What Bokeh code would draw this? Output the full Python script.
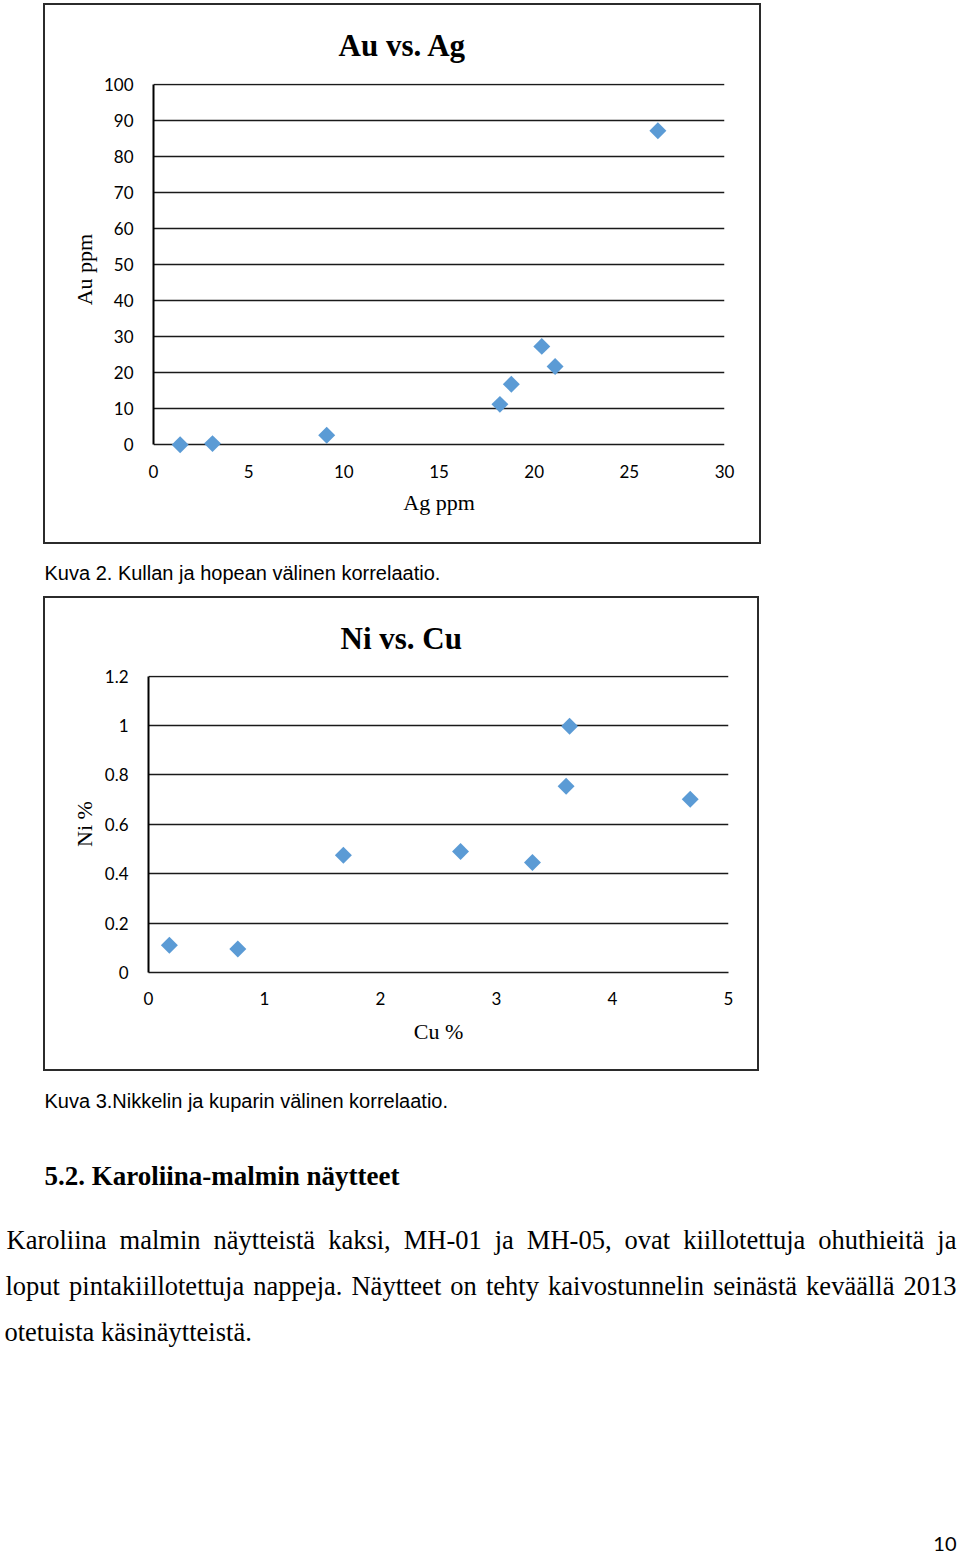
import numpy as np
from bokeh.plotting import figure
from bokeh.layouts import column, row
from bokeh.models import Range1d, FixedTicker, ColumnDataSource, Spacer
from bokeh.core.properties import value
from bokeh.embed import file_html
from bokeh.resources import INLINE

# ---------------- data ----------------
ag_ppm = [1.4, 3.1, 9.1, 18.2, 18.8, 20.4, 21.1, 26.5]
au_ppm = [0.0, 0.3, 2.6, 11.2, 16.8, 27.3, 21.7, 87.2]
ag_ticks = [0, 5, 10, 15, 20, 25, 30]
au_ticks = [0, 10, 20, 30, 40, 50, 60, 70, 80, 90, 100]

cu_pct = [0.18, 0.77, 1.68, 2.69, 3.31, 3.63, 3.60, 4.67]
ni_pct = [0.11, 0.095, 0.475, 0.49, 0.446, 0.997, 0.754, 0.702]
cu_ticks = [0, 1, 2, 3, 4, 5]
ni_ticks = [0, 0.2, 0.4, 0.6, 0.8, 1.0, 1.2]
ni_tick_labels = ["0", "0.2", "0.4", "0.6", "0.8", "1", "1.2"]

caption_1 = "Kuva 2. Kullan ja hopean välinen korrelaatio."
caption_2 = "Kuva 3.Nikkelin ja kuparin välinen korrelaatio."
heading = "5.2. Karoliina-malmin näytteet"
body_line1 = "Karoliina malmin näytteistä kaksi, MH-01 ja MH-05, ovat kiillotettuja ohuthieitä ja"
body_line2 = "loput pintakiillotettuja nappeja. Näytteet on tehty kaivostunnelin seinästä keväällä 2013"
body_line3 = "otetuista käsinäytteistä."
page_number = "10"

# ---------------- styles ----------------
BLUE = "#5B9BD5"
SERIF = "Liberation Serif"
SANS = "Liberation Sans"
TICKFONT = "Lato"
BOX_STYLE = {"border": "2px solid #2b2b2b"}
BODY_PX = 26.5

# Times / Liberation Serif advance widths (per em) used to justify body lines
TIMES_W = {"a": .444, "e": .444, "h": .5, "i": .278, "j": .278, "k": .5, "l": .278,
           "m": .778, "n": .5, "o": .5, "p": .5, "r": .333, "s": .389, "t": .278,
           "u": .5, "v": .5, "y": .5, "ä": .444, "K": .722, "M": .889, "H": .722,
           "N": .722, "-": .333, ",": .25, ".": .25, "0": .5, "1": .5, "2": .5,
           "3": .5, "5": .5}


def justify(line, left, right, px):
    words = line.split(" ")
    widths = [sum(TIMES_W.get(c, .5) for c in w) * px for w in words]
    gap = (right - left - sum(widths)) / (len(words) - 1)
    xs, x = [], left
    for w in widths:
        xs.append(x)
        x += w + gap
    return words, xs


def style_chart(p, title, xlab, ylab):
    p.styles = BOX_STYLE
    p.title.text = title
    p.title.text_font = SERIF
    p.title.text_font_size = "31px"
    p.title.text_font_style = "bold"
    p.title.align = "left"
    p.title.text_color = "black"
    p.outline_line_color = None
    p.xgrid.grid_line_color = None
    p.ygrid.grid_line_color = "#1a1a1a"
    p.ygrid.grid_line_width = 1.6
    for ax in (p.xaxis, p.yaxis):
        ax.major_tick_line_color = None
        ax.minor_tick_line_color = None
        ax.major_label_text_font = TICKFONT
        ax.major_label_text_font_size = "17px"
        ax.major_label_text_color = "black"
        ax.axis_label_text_font = SERIF
        ax.axis_label_text_font_size = "22px"
        ax.axis_label_text_font_style = "normal"
        ax.axis_label_text_color = "black"
    p.xaxis.axis_label = xlab
    p.yaxis.axis_label = ylab
    p.yaxis.axis_line_color = "black"
    p.yaxis.axis_line_width = 2
    p.yaxis.major_label_standoff = 14


# ---------------- chart 1: Au vs Ag ----------------
p1 = figure(width=718, height=541, x_range=Range1d(0, 30), y_range=Range1d(-3, 100.3),
            toolbar_location=None, output_backend="svg",
            min_border_left=108, min_border_right=39, min_border_top=78, min_border_bottom=91)
style_chart(p1, "Au vs. Ag", "Ag ppm", "Au ppm")
p1.title.standoff = 41
p1.xaxis.ticker = FixedTicker(ticks=ag_ticks)
p1.yaxis.ticker = FixedTicker(ticks=au_ticks)
p1.yaxis.bounds = (0, 100)
p1.xaxis.axis_line_color = None
p1.xaxis.major_label_standoff = 3
p1.xaxis.axis_label_standoff = 9
p1.yaxis.axis_label_standoff = 4
p1.title.offset = 185
p1.scatter(ag_ppm, au_ppm, marker="square", angle=np.pi / 4, size=12,
           fill_color=BLUE, line_color=None)

# ---------------- chart 2: Ni vs Cu ----------------
p2 = figure(width=716, height=475, x_range=Range1d(0, 5), y_range=Range1d(0, 1.203),
            toolbar_location=None, output_backend="svg",
            min_border_left=103, min_border_right=33, min_border_top=77, min_border_bottom=101)
style_chart(p2, "Ni vs. Cu", "Cu %", "Ni %")
p2.title.standoff = 40
p2.xaxis.ticker = FixedTicker(ticks=cu_ticks)
p2.yaxis.ticker = FixedTicker(ticks=ni_ticks)
p2.yaxis.bounds = (0, 1.2)
p2.yaxis.major_label_overrides = dict(zip(ni_ticks, ni_tick_labels))
p2.xaxis.axis_line_color = "#1a1a1a"
p2.xaxis.axis_line_width = 1.6
p2.xaxis.major_label_standoff = 13
p2.xaxis.axis_label_standoff = 11
p2.yaxis.axis_label_standoff = 5
p2.title.offset = 192
p2.scatter(cu_pct, ni_pct, marker="square", angle=np.pi / 4, size=12,
           fill_color=BLUE, line_color=None)


# ---------------- text blocks ----------------
def text_fig(h):
    f = figure(width=960, height=h, x_range=Range1d(0, 960), y_range=Range1d(h, 0),
               x_axis_type=None, y_axis_type=None, toolbar_location=None,
               output_backend="svg", min_border=0, outline_line_color=None)
    f.grid.visible = False
    return f


def put(f, xs, ys, texts, font, size, style="normal", align="left"):
    src = ColumnDataSource(dict(x=xs, y=ys, t=texts))
    f.text(x="x", y="y", text="t", source=src, text_font=value(font),
           text_font_size=size, text_font_style=style, text_align=align,
           text_baseline="middle", text_color="black")


t1 = text_fig(52)
put(t1, [44], [28], [caption_1], SANS, "20px")

t2 = text_fig(483)
put(t2, [44], [29], [caption_2], SANS, "20px")
put(t2, [44], [104], [heading], SERIF, "27px", style="bold")
w1, x1 = justify(body_line1, 6, 956, BODY_PX)
put(t2, x1, [168] * len(w1), w1, SERIF, f"{BODY_PX}px")
w2, x2 = justify(body_line2, 5, 956, BODY_PX)
put(t2, x2, [214] * len(w2), w2, SERIF, f"{BODY_PX}px")
put(t2, [4], [260], [body_line3], SERIF, f"{BODY_PX}px")
put(t2, [956], [472], [page_number], TICKFONT, "20px", align="right")

layout = column(
    Spacer(width=960, height=3),
    row(Spacer(width=43, height=541), p1),
    t1,
    row(Spacer(width=43, height=475), p2),
    t2,
)

open("out.html", "w").write(file_html(layout, INLINE))
